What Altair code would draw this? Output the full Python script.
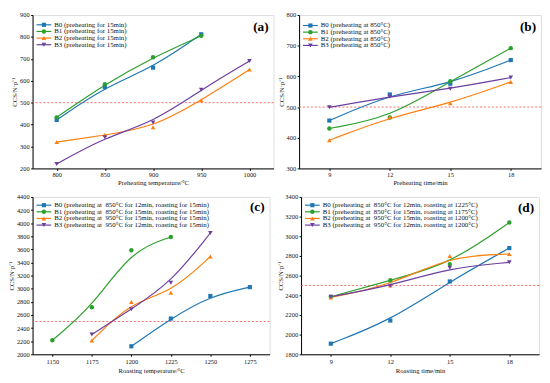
import altair as alt
import pandas as pd

SERIES = ["B0", "B1", "B2", "B3"]
COLORS = ["#1f77b4", "#2ca02c", "#ff7f0e", "#6b3fa0"]
SHAPES = ["square", "circle", "triangle-up", "triangle-down"]
SIZES = [18, 20, 22, 22]

# ---------------- panel (a) ----------------
a_x_b0 = [800, 850, 900, 950]
a_y_b0 = [421, 571, 660, 812]
a_x_b1 = [800, 850, 900, 950]
a_y_b1 = [433, 584, 707, 805]
a_x_b2 = [800, 850, 900, 950, 1000]
a_y_b2 = [320, 352, 388, 511, 651]
a_x_b3 = [800, 850, 900, 950, 1000]
a_y_b3 = [220, 342, 410, 559, 690]
a_labels = [f"{s} (preheating for 15min)" for s in SERIES]
a_xticks = [800, 850, 900, 950, 1000]
a_yticks = [200, 300, 400, 500, 600, 700, 800, 900]
a_ref = [500]

# ---------------- panel (b) ----------------
b_x = [9, 12, 15, 18]
b_y_b0 = [456, 541, 576, 653]
b_y_b1 = [430, 466, 584, 692]
b_y_b2 = [392, 467, 512, 582]
b_y_b3 = [499, 534, 560, 596]
b_labels = [f"{s} (preheating at 850°C)" for s in SERIES]
b_xticks = [9, 12, 15, 18]
b_yticks = [300, 400, 500, 600, 700, 800]
b_ref = [500]

# ---------------- panel (c) ----------------
c_x_b0 = [1200, 1225, 1250, 1275]
c_y_b0 = [2122, 2545, 2889, 3024]
c_x_b1 = [1150, 1175, 1200, 1225]
c_y_b1 = [2215, 2718, 3587, 3788]
c_x_b2 = [1175, 1200, 1225, 1250]
c_y_b2 = [2210, 2798, 2939, 3491]
c_x_b3 = [1175, 1200, 1225, 1250]
c_y_b3 = [2301, 2688, 3090, 3850]
c_labels = [
    "B0 (preheating at\u00a0 850°C for 12min, roasting for 15min)",
    "B1 (preheating at\u00a0 850°C for 15min, roasting for 15min)",
    "B2 (preheating at\u00a0 950°C for 15min, roasting for 15min)",
    "B3 (preheating at\u00a0 950°C for 12min, roasting for 15min)",
]
c_xticks = [1150, 1175, 1200, 1225, 1250, 1275]
c_yticks = list(range(2000, 4401, 200))
c_ref = [2500]

# ---------------- panel (d) ----------------
d_x = [9, 12, 15, 18]
d_y_b0 = [1908, 2143, 2541, 2880]
d_y_b1 = [2385, 2553, 2717, 3140]
d_y_b2 = [2378, 2500, 2800, 2820]
d_y_b3 = [2385, 2496, 2680, 2735]
d_labels = [
    "B0 (preheating at\u00a0 850°C for 12min, roasting at 1225°C)",
    "B1 (preheating at\u00a0 850°C for 15min, roasting at 1175°C)",
    "B2 (preheating at\u00a0 950°C for 15min, roasting at 1200°C)",
    "B3 (preheating at\u00a0 950°C for 12min, roasting at 1200°C)",
]
d_xticks = [9, 12, 15, 18]
d_yticks = list(range(1800, 3401, 200))
d_ref = [2500]

FONT = "Liberation Serif"
YTITLE = "CCS/N·p⁻¹"


def frame(xs, ys, labels):
    rows = []
    for lab, xv, yv in zip(labels, xs, ys):
        for a, b in zip(xv, yv):
            rows.append({"x": a, "y": b, "label": lab})
    return pd.DataFrame(rows)


def panel(df, labels, xdom, xticks, ydom, yticks, xtitle, ref, tag, w, h,
          tag_y, title_x, leg_rows, lab_pad=1, title_pad=2):
    xs = alt.Scale(domain=xdom, nice=False, zero=False)
    ys = alt.Scale(domain=ydom, nice=False, zero=False)
    axis_common = dict(grid=False, format="d", labelFont=FONT, labelFontSize=6.5,
                       labelColor="#111", titleFont=FONT, titleFontSize=6.8,
                       titleFontWeight="normal", titleColor="#111", tickSize=2,
                       tickColor="black", domainColor="black", labelFlush=False,
                       labelOverlap=False)
    xaxis = alt.Axis(values=xticks, title=xtitle, labelPadding=lab_pad,
                     titlePadding=title_pad, **axis_common)
    yaxis = alt.Axis(values=yticks, title=YTITLE, labelPadding=1.5,
                     titleX=title_x, titleY=h / 2, **axis_common)
    xenc = alt.X("x:Q", scale=xs, axis=xaxis)
    yenc = alt.Y("y:Q", scale=ys, axis=yaxis)
    cscale = alt.Scale(domain=labels, range=COLORS)
    base = alt.Chart(df)

    ref_layer = alt.Chart(pd.DataFrame({"y": ref})).mark_rule(
        color="#ff4f4f", strokeDash=[2, 2], strokeWidth=1, opacity=0.85
    ).encode(y=yenc)

    lines = base.mark_line(interpolate="basis", strokeWidth=1.2).encode(
        x=xenc, y=yenc, color=alt.Color("label:N", scale=cscale, legend=None)
    )
    data_layers = [ref_layer, lines]
    for lab, shp, sz in zip(labels, SHAPES, SIZES):
        data_layers.append(
            base.mark_point(shape=shp, filled=True, size=sz, opacity=1).encode(
                x=xenc, y=yenc,
                color=alt.Color("label:N", scale=cscale, legend=None),
            ).transform_filter(alt.datum.label == lab)
        )
    data_part = alt.layer(*data_layers)

    # legend drawn inside the plot, rows placed by a point scale
    leg = alt.Chart(pd.DataFrame({"label": labels}))
    ly = alt.Y("label:N", axis=None,
               scale=alt.Scale(domain=labels, range=leg_rows, padding=0))
    lcol = alt.Color("label:N", scale=cscale, legend=None)
    leg_layers = [
        leg.mark_rule(strokeWidth=1.2).encode(
            x=alt.value(4), x2=alt.value(19), y=ly, color=lcol),
        leg.mark_text(align="left", baseline="middle", font=FONT, fontSize=7,
                      color="#111").encode(x=alt.value(22), y=ly, text="label:N"),
    ]
    for lab, shp, sz in zip(labels, SHAPES, SIZES):
        leg_layers.append(
            leg.mark_point(shape=shp, filled=True, size=sz, opacity=1).encode(
                x=alt.value(11.5), y=ly, color=lcol
            ).transform_filter(alt.datum.label == lab)
        )
    tag_layer = alt.Chart(pd.DataFrame({"t": [tag]})).mark_text(
        font=FONT, fontWeight="bold", fontSize=13.5, align="right",
        baseline="middle", color="black"
    ).encode(text="t:N", x=alt.value(w - 5), y=alt.value(tag_y))
    leg_layers.append(tag_layer)
    leg_part = alt.layer(*leg_layers)

    return alt.layer(data_part, leg_part).resolve_scale(y="independent").properties(
        width=w, height=h)


df_a = frame([a_x_b0, a_x_b1, a_x_b2, a_x_b3], [a_y_b0, a_y_b1, a_y_b2, a_y_b3], a_labels)
df_b = frame([b_x] * 4, [b_y_b0, b_y_b1, b_y_b2, b_y_b3], b_labels)
df_c = frame([c_x_b0, c_x_b1, c_x_b2, c_x_b3], [c_y_b0, c_y_b1, c_y_b2, c_y_b3], c_labels)
df_d = frame([d_x] * 4, [d_y_b0, d_y_b1, d_y_b2, d_y_b3], d_labels)

pa = panel(df_a, a_labels, [775, 1025], a_xticks, [200, 900], a_yticks,
           "Preheating temperature/°C", a_ref, "(a)", 245, 156, 12, -15, [6.6, 33.6])
pb = panel(df_b, b_labels, [7.5, 19.5], b_xticks, [300, 800], b_yticks,
           "Preheating time/min", b_ref, "(b)", 246, 156, 12, -15, [7.3, 34.3])
pc = panel(df_c, c_labels, [1137.5, 1287.5], c_xticks, [2000, 4400], c_yticks,
           "Roasting temperature/°C", c_ref, "(c)", 241, 160, 10, -18, [5, 32],
           lab_pad=2.5, title_pad=3)
pd_ = panel(df_d, d_labels, [7.5, 19.5], d_xticks, [1800, 3400], d_yticks,
            "Roasting time/min", d_ref, "(d)", 242, 160, 11, -18, [5, 32],
            lab_pad=2.5, title_pad=3)

INDEP = dict(color="independent")
row1 = alt.hconcat(pa, pb, spacing=3).resolve_scale(**INDEP)
row2 = alt.hconcat(pc, pd_, spacing=6).resolve_scale(**INDEP)
chart = alt.vconcat(row1, row2, spacing=6).resolve_scale(**INDEP).properties(
    padding=0
).configure_view(stroke="black", strokeWidth=0.9).configure(background="white")

chart.save("out.html", embed_options={"renderer": "svg", "actions": False})
